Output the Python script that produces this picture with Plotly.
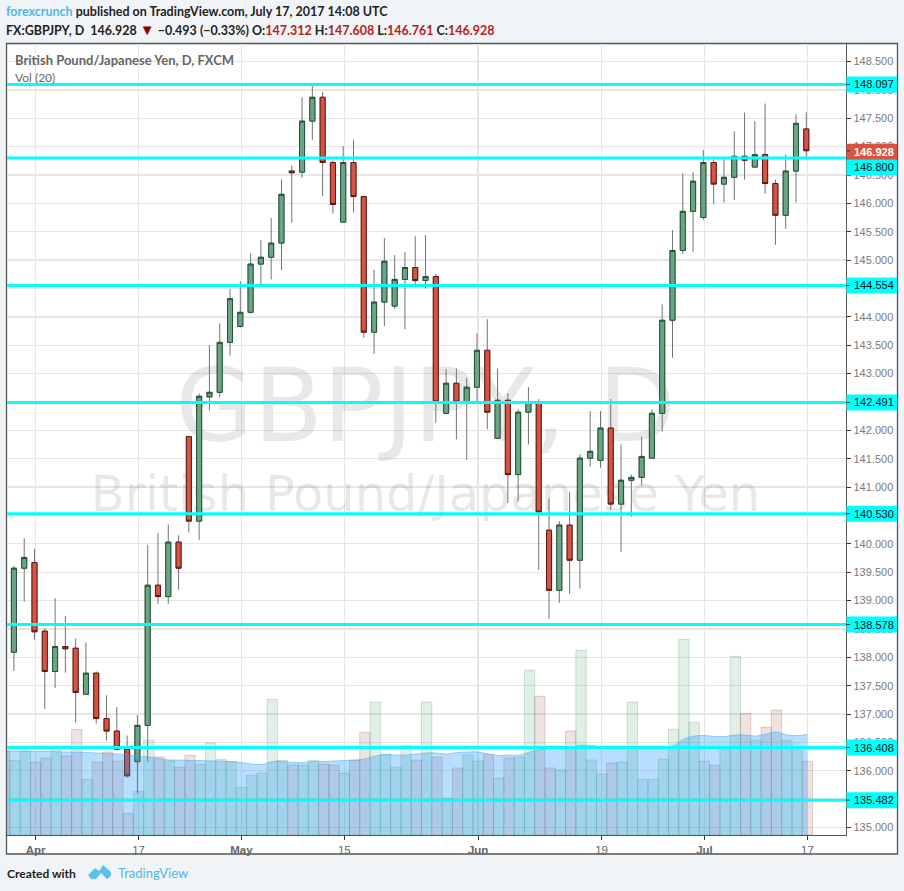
import plotly.graph_objects as go

# ---------- data ----------
bars = list(range(-2, 76))
opens = [138.09,139.57,139.67,138.46,137.75,138.19,138.16,137.35,137.72,136.92,136.70,136.38,136.16,136.80,139.27,139.07,140.03,141.89,140.40,142.59,142.67,143.55,143.83,144.08,144.93,145.05,145.30,146.57,146.55,147.45,147.87,146.72,145.67,146.72,146.12,143.73,144.26,144.19,144.66,144.87,144.64,144.71,142.30,142.83,142.50,142.76,143.41,141.86,142.53,141.22,142.32,142.50,140.24,139.18,140.33,139.71,141.51,141.47,142.04,140.70,141.12,141.17,141.51,142.30,143.94,145.17,145.86,145.75,146.72,146.34,146.46,146.83,146.64,146.86,146.35,145.79,146.57,147.312]
highs = [139.61,140.10,139.91,138.51,139.04,138.73,138.33,138.26,137.75,137.33,137.12,136.62,136.98,139.98,140.19,140.34,140.15,141.89,142.65,143.50,143.89,144.49,144.63,145.12,145.35,145.74,146.42,146.67,147.87,148.07,147.96,146.76,147.01,147.12,146.12,144.83,145.39,145.09,145.14,145.42,145.44,144.76,143.08,143.09,142.92,143.71,143.96,143.09,142.65,142.37,142.76,142.55,140.80,140.40,140.91,141.58,142.34,142.34,142.55,141.75,141.22,141.89,142.37,144.22,145.53,146.53,146.55,146.94,146.83,146.78,147.27,147.60,147.45,147.76,146.42,146.86,147.57,147.608]
lows = [137.76,138.98,138.31,137.09,137.46,137.73,136.85,137.35,136.83,136.53,136.36,135.88,135.60,136.16,138.94,138.94,139.19,140.20,140.07,142.35,142.58,143.32,143.81,144.06,144.58,144.66,144.82,145.66,146.45,147.12,146.13,145.82,145.67,145.84,143.63,143.35,143.84,144.14,143.78,144.52,144.50,142.13,142.30,141.84,141.48,142.50,142.02,141.86,140.72,140.74,141.75,139.54,138.68,138.96,139.12,139.21,141.36,141.34,140.60,139.86,140.48,141.03,141.51,141.98,143.28,145.11,145.15,145.71,145.99,146.01,146.06,146.42,146.64,146.17,145.27,145.55,146.01,146.761]
closes = [139.57,139.76,138.45,137.75,138.19,138.15,137.38,137.72,136.92,136.70,136.38,135.91,136.80,139.27,139.07,140.03,139.57,140.40,142.60,142.67,143.55,144.32,144.08,144.93,145.05,145.30,146.16,146.54,147.45,147.87,146.72,145.98,146.72,146.12,143.73,144.26,144.98,144.66,144.87,144.64,144.71,142.50,142.83,142.50,142.76,143.41,142.32,142.53,141.22,142.32,142.50,140.56,139.18,140.33,139.71,141.51,141.63,142.04,140.70,141.12,141.17,141.54,142.30,143.94,145.17,145.86,146.39,146.72,146.34,146.46,146.83,146.76,146.86,146.35,145.79,146.57,147.41,146.928]

# volume bars start one session earlier than the visible candles
vol_bars = list(range(-3, 76))
volumes = [84,74.7,84,73,76.7,84.7,79,105.7,55.7,73,83,74,21.7,43.7,94.7,78,74,68,79.7,70.7,92,75.7,73.3,47.7,59.7,62,135.7,74.7,70,70,74.7,71,70,62,74.7,102.7,132.7,80.7,67.7,89.7,75,133,78,36.7,67,80,74,80.7,57,77,78,164.7,138.7,67,65,104,184.7,75,61,72,73,133,55.7,55.7,75.7,105.7,195.7,112.7,73.7,69.7,88,178.7,121.7,94.7,107.7,124.7,94.7,88,73.7]
vol_ma = [84,84,84,83.5,83.5,83.3,83,83,82.5,82,81.5,81,80,79,78,76.5,75,75,74.5,74.5,74,74,73.5,72.5,71,70.5,73.5,73.5,72.5,72.5,73.5,73.5,74,74.5,75,76,79,80.5,80,80,81,82,82,81,82.5,83,83,81,79.5,80,80,83,85.5,87,87,88,90,89.5,88.5,88,87.5,88,87.5,88,88.5,89.5,96,99,99.5,98.5,98.5,100,100,99,101,103,100,99.5,100.5]

levels = [148.097, 146.8, 144.554, 142.491, 140.53, 138.578, 136.408, 135.482]
level_labels = ["148.097", "146.800", "144.554", "142.491", "140.530", "138.578", "136.408", "135.482"]
last_price = 146.928

tick_bars = [0, 10, 20, 30, 43, 55, 65, 75]
tick_labels = ["<b>Apr</b>", "17", "<b>May</b>", "15", "<b>Jun</b>", "19", "<b>Jul</b>", "17"]
price_ticks = [135 + 0.5 * k for k in range(28)]
covered_ticks = [135.5, 140.5, 142.5, 144.5]  # sit fully behind a level tag in the reference

# ---------- geometry / style ----------
W, H = 904, 891
L, R, T, B = 7, 846, 44, 835
PY = (148.809, 134.868)
XR = (-2.672, 78.86)
OFF = 0.11
UP, DOWN = "#6ba583", "#d75442"
UP_B, DOWN_B = "#225437", "#5b1a13"
WICK = "#737375"
CYAN = "#00ffff"
FRAME = "#555555"
SANS = "Liberation Sans"
HEAD = "Lato"


def px(x):
    return (x - L) / (R - L)


def py(y):
    return 1 - (y - T) / (B - T)


fig = go.Figure()

# watermark, lowest layer
fig.add_trace(go.Scatter(x=[38.0], y=[142.25], mode="text", text=["GBPJPY, D"],
                         textfont=dict(family="DejaVu Sans", size=101, color="rgba(0,0,0,0.09)"),
                         hoverinfo="skip", showlegend=False, cliponaxis=False))
fig.add_trace(go.Scatter(x=[38.0], y=[140.8], mode="text", text=["British Pound/Japanese Yen"],
                         textfont=dict(family="DejaVu Sans", size=49.5, color="rgba(0,0,0,0.09)"),
                         hoverinfo="skip", showlegend=False, cliponaxis=False))

# candles: wicks first, then body outlines
fig.add_trace(go.Candlestick(x=bars, open=opens, high=highs, low=lows, close=closes, yaxis="y2",
                             increasing=dict(line=dict(color=WICK, width=1), fillcolor=UP),
                             decreasing=dict(line=dict(color=WICK, width=1), fillcolor=DOWN),
                             whiskerwidth=0, showlegend=False, hoverinfo="skip"))
fig.add_trace(go.Candlestick(x=bars, open=opens, close=closes,
                             high=[max(o, c) for o, c in zip(opens, closes)],
                             low=[min(o, c) for o, c in zip(opens, closes)], yaxis="y2",
                             increasing=dict(line=dict(color=UP_B, width=1), fillcolor=UP),
                             decreasing=dict(line=dict(color=DOWN_B, width=1), fillcolor=DOWN),
                             whiskerwidth=0, showlegend=False, hoverinfo="skip"))

# volume bars, with the moving-average area washed over them
is_up = [False] + [c >= o for o, c in zip(opens, closes)]
fig.add_trace(go.Bar(x=[b + OFF for b in vol_bars], y=volumes, width=1, yaxis="y3",
                     marker=dict(color=["rgba(85,170,115,0.18)" if u else "rgba(175,95,95,0.18)" for u in is_up],
                                 line=dict(color=["rgba(50,130,75,0.22)" if u else "rgba(130,60,60,0.22)" for u in is_up], width=1)),
                     showlegend=False, hoverinfo="skip"))
fig.add_trace(go.Scatter(x=[b + OFF for b in vol_bars], y=vol_ma, mode="lines", yaxis="y3",
                         line=dict(color="rgba(60,170,250,0.5)", width=1, shape="spline"),
                         fill="tozeroy", fillcolor="rgba(25,150,250,0.31)",
                         showlegend=False, hoverinfo="skip"))

shapes = []
# frame
shapes.append(dict(type="rect", xref="paper", yref="paper", x0=px(6.5), x1=px(897.5), y0=py(854), y1=py(43.5),
                   line=dict(color=FRAME, width=1.3), fillcolor="white", layer="below"))
# horizontal levels
for v in levels:
    shapes.append(dict(type="line", xref="paper", yref="y", x0=0, x1=1, y0=v, y1=v,
                       line=dict(color=CYAN, width=3), layer="above"))

annotations = []


def price_tag(value, text, fill, color, shift=0):
    shapes.append(dict(type="rect", xref="paper", yref="y", ysizemode="pixel", yanchor=value,
                       x0=px(846.5), x1=px(897), y0=-8 + shift, y1=8 + shift,
                       fillcolor=fill, line=dict(width=0), layer="above"))
    shapes.append(dict(type="line", xref="paper", yref="y", x0=px(846), x1=px(850), y0=value, y1=value,
                       line=dict(color="#333333", width=1), layer="above"))
    annotations.append(dict(xref="paper", yref="y", x=px(851.5), y=value, yshift=shift, text=text,
                            xanchor="left", yanchor="middle", showarrow=False,
                            font=dict(family=SANS, size=11, color=color)))


for v, t in zip(levels, level_labels):
    price_tag(v, t, CYAN, "#111111", shift=-9.5 if t == "146.800" else 0)
price_tag(last_price, "<b>146.928</b>", "#d9533f", "#ffffff", shift=-1)


def label(x, y, text, size=12.5, color="#222222", family=HEAD):
    annotations.append(dict(xref="paper", yref="paper", x=px(x - 2), y=py(y), text=text, xanchor="left",
                            yanchor="middle", showarrow=False, align="left",
                            font=dict(family=family, size=size, color=color)))


BLUE = "#4db8e8"
RED = "#b71c1c"
label(6, 11.5, f'<b><span style="color:{BLUE}">forexcrunch</span> published on TradingView.com, July 17, 2017 14:08 UTC</b>')
label(6, 29.5, f'<b>FX:GBPJPY, D  146.928 <span style="color:#8b0000;font-size:15px">▼</span> −0.493 (−0.33%) O:<span style="color:{RED}">147.312</span> H:<span style="color:{RED}">147.608</span> L:<span style="color:{RED}">146.761</span> C:<span style="color:{RED}">146.928</span></b>')
label(15, 60.5, "<b>British Pound/Japanese Yen, D, FXCM</b>", size=13, color="#666666")
label(15, 77.5, "Vol (20)", size=12, color="#666666")
label(6.5, 873, "<b>Created with</b>", size=12)
label(118, 873, "TradingView", color=BLUE, size=13)

# TradingView logo
logo = "M 88 875 L 95 868 L 99 871 L 103 865 L 111 872 L 111 876 L 107 879 L 101 873 L 96 879 L 91 879 Z"
parts = logo.split()
out, i = [], 0
while i < len(parts):
    if parts[i] in "MLZ":
        out.append(parts[i])
        if parts[i] == "Z":
            i += 1
        else:
            out.append(f"{px(float(parts[i+1]))},{py(float(parts[i+2]))}")
            i += 3
shapes.append(dict(type="path", xref="paper", yref="paper", path=" ".join(out),
                   fillcolor="#5bc1e8", line=dict(width=0), layer="above"))

fig.update_layout(
    width=W, height=H, margin=dict(l=L, r=W - R, t=T, b=H - B, pad=0),
    paper_bgcolor="#f1f4f7", plot_bgcolor="white", showlegend=False,
    boxmode="overlay", boxgap=0.3, barmode="overlay", dragmode=False,
    shapes=shapes, annotations=annotations,
    xaxis=dict(range=XR, tickmode="array", tickvals=[b + OFF for b in tick_bars], ticktext=tick_labels,
               showgrid=True, gridcolor="#e6e6e6", gridwidth=1.3, zeroline=False, ticks="outside", ticklen=4,
               tickcolor="#333333", showline=True, linecolor=FRAME, linewidth=1.3,
               tickfont=dict(family=SANS, size=11.5, color="#666666"), rangeslider=dict(visible=False)),
    yaxis=dict(range=[PY[1], PY[0]], side="right", tickmode="array", tickvals=price_ticks,
               ticktext=["" if v in covered_ticks else f"{v:.3f}" for v in price_ticks],
               showgrid=True, gridcolor="#e6e6e6", gridwidth=1.3,
               zeroline=False, ticks="outside", ticklen=4, tickcolor="#333333", showline=True, linecolor=FRAME,
               linewidth=1.3, tickfont=dict(family=SANS, size=11, color="#7a7a7a")),
    yaxis2=dict(range=[PY[1], PY[0]], overlaying="y", visible=False),
    yaxis3=dict(range=[0, B - T], overlaying="y", visible=False),
)

fig.write_html("out.html", config=dict(displayModeBar=False, staticPlot=True),
               post_script="document.body.style.margin='0';document.body.style.background='#f1f4f7';")
